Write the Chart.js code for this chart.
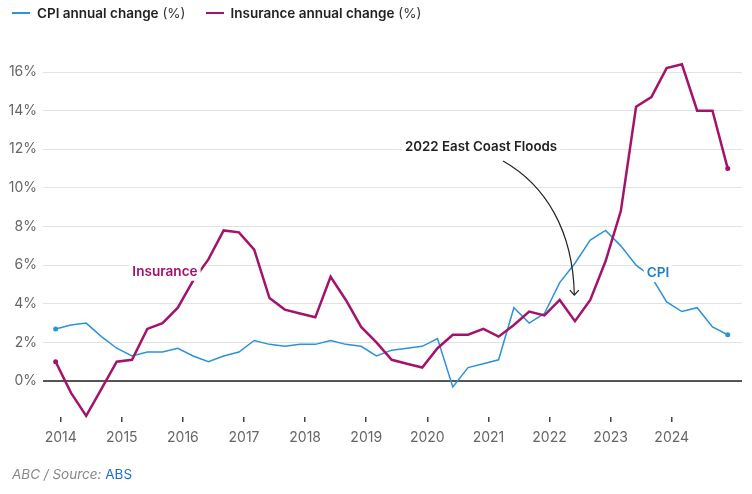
<!DOCTYPE html>
<html>
<head>
<meta charset="utf-8">
<script src="https://cdn.jsdelivr.net/npm/chart.js@4.4.1/dist/chart.umd.min.js"></script>
<style>
  body { margin: 0; background: #fff; font-family: Inter, "Noto Sans", sans-serif; }
  #wrap { position: relative; width: 752px; height: 494px; overflow: hidden; }
  #chart { position: absolute; left: 0; top: 0; }
  .legend { position: absolute; top: 5px; left: 12px; font-size: 13.5px; color: #222; display: flex; align-items: center; }
  .legend .item { display: flex; align-items: center; margin-right: 20px; }
  .legend .sw { display: inline-block; width: 18px; margin-right: 7px; }
  .legend b { font-weight: 600; }
  .legend .pc { font-weight: 400; color: #333; }
  .source { position: absolute; left: 12px; top: 466px; font-size: 13.5px; color: #888; }
  .source i { font-style: italic; }
  .source span { color: #1f6fd0; }
</style>
</head>
<body>
<div id="wrap">
  <canvas id="chart" width="752" height="494"></canvas>
  <div class="legend">
    <div class="item"><span class="sw" style="height:1.5px;background:#2b93d9"></span><b>CPI annual change</b>&nbsp;<span class="pc">(%)</span></div>
    <div class="item"><span class="sw" style="height:2.5px;background:#a3136b"></span><b>Insurance annual change</b>&nbsp;<span class="pc">(%)</span></div>
  </div>
  <div class="source"><i>ABC / Source:</i> <span>ABS</span></div>
</div>
<script>
// quarterly, Dec 2013 – Dec 2024
const QUARTERS = [
  "Dec 2013",
  "Mar 2014", "Jun 2014", "Sep 2014", "Dec 2014",
  "Mar 2015", "Jun 2015", "Sep 2015", "Dec 2015",
  "Mar 2016", "Jun 2016", "Sep 2016", "Dec 2016",
  "Mar 2017", "Jun 2017", "Sep 2017", "Dec 2017",
  "Mar 2018", "Jun 2018", "Sep 2018", "Dec 2018",
  "Mar 2019", "Jun 2019", "Sep 2019", "Dec 2019",
  "Mar 2020", "Jun 2020", "Sep 2020", "Dec 2020",
  "Mar 2021", "Jun 2021", "Sep 2021", "Dec 2021",
  "Mar 2022", "Jun 2022", "Sep 2022", "Dec 2022",
  "Mar 2023", "Jun 2023", "Sep 2023", "Dec 2023",
  "Mar 2024", "Jun 2024", "Sep 2024", "Dec 2024"
];

const CPI = [
  2.7,
  2.9, 3.0, 2.3, 1.7,
  1.3, 1.5, 1.5, 1.7,
  1.3, 1.0, 1.3, 1.5,
  2.1, 1.9, 1.8, 1.9,
  1.9, 2.1, 1.9, 1.8,
  1.3, 1.6, 1.7, 1.8,
  2.2, -0.3, 0.7, 0.9,
  1.1, 3.8, 3.0, 3.5,
  5.1, 6.1, 7.3, 7.8,
  7.0, 6.0, 5.4, 4.1,
  3.6, 3.8, 2.8, 2.4
];

const INSURANCE = [
  1.0,
  -0.6, -1.8, -0.4, 1.0,
  1.1, 2.7, 3.0, 3.8,
  5.2, 6.3, 7.8, 7.7,
  6.8, 4.3, 3.7, 3.5,
  3.3, 5.4, 4.2, 2.8,
  2.0, 1.1, 0.9, 0.7,
  1.7, 2.4, 2.4, 2.7,
  2.3, 2.9, 3.6, 3.4,
  4.2, 3.1, 4.2, 6.2,
  8.8, 14.2, 14.7, 16.2,
  16.4, 14.0, 14.0, 11.0
];

const X_TICKS = [2014, 2015, 2016, 2017, 2018, 2019, 2020, 2021, 2022, 2023, 2024];
const Y_TICKS = [0, 2, 4, 6, 8, 10, 12, 14, 16];

const MONTHS = { Mar: 3, Jun: 6, Sep: 9, Dec: 12 };
function quarterToX(q) {
  const [m, y] = q.split(" ");
  return Number(y) + (MONTHS[m] - 1) / 12;
}

function toPoints(values) {
  return values.map((v, i) => ({ x: quarterToX(QUARTERS[i]), y: v }));
}

const endDot = (ctx) => (ctx.dataIndex === 0 || ctx.dataIndex === QUARTERS.length - 1 ? 2.5 : 0);

const FONT = "Inter, 'Noto Sans', sans-serif";

// annotation anchors in data units (year, %)
const INS_LABEL = { x: 2016.24, y: 5.66, text: "Insurance" };
const CPI_LABEL = { x: 2023.59, y: 5.59, text: "CPI" };
const FLOOD_LABEL = { x: 2019.635, y: 12.13, text: "2022 East Coast Floods" };
const FLOOD_ARROW = [[2021.24, 11.39], [2021.93, 10.15], [2022.385, 7.82], [2022.406, 4.45]];

const annotations = {
  id: "annotations",
  afterDatasetsDraw(chart) {
    const { ctx, scales } = chart;
    const px = (v) => scales.x.getPixelForValue(v);
    const py = (v) => scales.y.getPixelForValue(v);

    function label(a, color, align, size) {
      ctx.save();
      ctx.font = "600 " + size + "px " + FONT;
      ctx.textBaseline = "middle";
      const w = ctx.measureText(a.text).width;
      const x = align === "right" ? px(a.x) - w : px(a.x);
      const y = py(a.y);
      ctx.fillStyle = "#fff";
      ctx.fillRect(x - 3, y - 9, w + 6, 18);
      ctx.fillStyle = color;
      ctx.fillText(a.text, x, y);
      ctx.restore();
    }

    label(INS_LABEL, "#a3136b", "right", 13.6);
    label(CPI_LABEL, "#1b80c9", "left", 13.6);
    label(FLOOD_LABEL, "#222", "left", 13.3);

    // curved arrow
    const p = FLOOD_ARROW.map(([x, y]) => [px(x), py(y)]);
    ctx.save();
    ctx.strokeStyle = "#222";
    ctx.lineWidth = 1.2;
    ctx.beginPath();
    ctx.moveTo(p[0][0], p[0][1]);
    ctx.bezierCurveTo(p[1][0], p[1][1], p[2][0], p[2][1], p[3][0], p[3][1]);
    ctx.stroke();
    const [tx, ty] = p[3];
    ctx.beginPath();
    ctx.moveTo(tx - 4.5, ty - 5);
    ctx.lineTo(tx, ty);
    ctx.lineTo(tx + 4.5, ty - 5);
    ctx.stroke();
    ctx.restore();
  }
};

new Chart(document.getElementById("chart"), {
  type: "line",
  data: {
    datasets: [
      {
        label: "Insurance annual change (%)",
        data: toPoints(INSURANCE),
        borderColor: "#a3136b",
        backgroundColor: "#a3136b",
        borderWidth: 2.5,
        pointRadius: endDot,
        pointBorderWidth: 0,
        tension: 0,
        clip: false,
        order: 0
      },
      {
        label: "CPI annual change (%)",
        data: toPoints(CPI),
        borderColor: "#2b93d9",
        backgroundColor: "#2b93d9",
        borderWidth: 1.5,
        pointRadius: endDot,
        pointBorderWidth: 0,
        tension: 0,
        clip: false,
        order: 1
      }
    ]
  },
  options: {
    responsive: false,
    animation: false,
    layout: { padding: { top: 72, right: 10, bottom: 43, left: 0 } },
    plugins: { legend: { display: false }, tooltip: { enabled: false } },
    scales: {
      x: {
        type: "linear",
        min: 2013.71,
        max: 2025.15,
        afterBuildTicks: (scale) => { scale.ticks = X_TICKS.map((v) => ({ value: v })); },
        afterFit: (scale) => { scale.height = 34; },
        grid: { drawOnChartArea: false, drawTicks: true, tickLength: 5, color: "#444", lineWidth: 1.5 },
        border: { display: false },
        ticks: {
          padding: 7,
          color: "#666",
          font: { family: FONT, size: 14 },
          maxRotation: 0,
          callback: (v) => String(v)
        }
      },
      y: {
        min: -1.86,
        max: 16,
        afterBuildTicks: (scale) => { scale.ticks = Y_TICKS.map((v) => ({ value: v })); },
        afterFit: (scale) => { scale.width = 43; },
        grid: {
          drawTicks: false,
          color: (c) => (c.tick && c.tick.value === 0 ? "#555" : "#e2e2e2"),
          lineWidth: (c) => (c.tick && c.tick.value === 0 ? 2 : 1)
        },
        border: { display: false },
        ticks: {
          padding: 6,
          color: "#666",
          font: { family: FONT, size: 14 },
          callback: (v) => v + "%"
        }
      }
    }
  },
  plugins: [annotations]
});
</script>
</body>
</html>
